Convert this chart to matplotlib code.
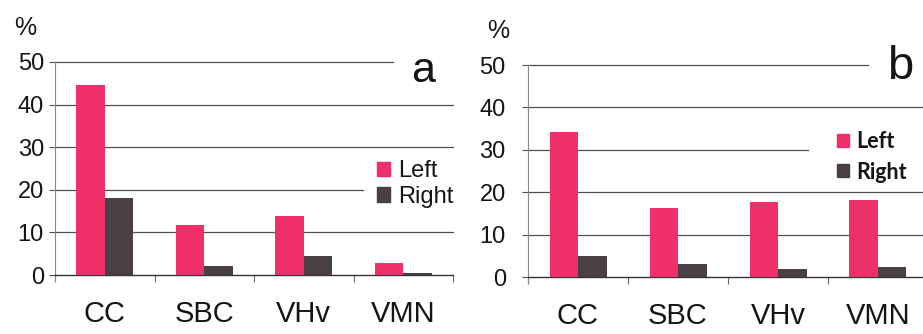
import numpy as np
import matplotlib.pyplot as plt
from matplotlib.patches import Patch

# data
categories = ["CC", "SBC", "VHv", "VMN"]
left_a = [44.6, 11.8, 13.8, 2.8]
right_a = [18.0, 2.1, 4.5, 0.5]
left_b = [34.3, 16.2, 17.6, 18.2]
right_b = [5.0, 3.1, 1.9, 2.3]
yticks = [0, 10, 20, 30, 40, 50]

pink = "#ee2f6a"
dark = "#4a3f44"
grid_c = "#505050"

plt.rcParams['font.family'] = ['Liberation Sans', 'DejaVu Sans']

fig = plt.figure(figsize=(9.23, 3.34), dpi=100)


def panel(rect, left, right, letter, letter_size, legend_font, legend_anchor,
          legend_gap, letter_xy, grid_ends, ypad):
    ax = fig.add_axes(rect)
    x = np.arange(len(categories))
    w = 0.285
    ax.bar(x - w / 2, left, w, color=pink, label="Left", zorder=3)
    ax.bar(x + w / 2, right, w, color=dark, label="Right", zorder=3)
    ax.set_xlim(-0.5, 3.5)
    ax.set_ylim(0, 50)
    # horizontal gridlines, some broken by the legend / panel letter
    for yv, xe in zip(yticks[1:], grid_ends):
        ax.plot([-0.5, xe], [yv, yv], color=grid_c, lw=0.9, zorder=1, clip_on=False)
    for s in ["top", "right"]:
        ax.spines[s].set_visible(False)
    ax.spines["left"].set_color("#888888")
    ax.spines["left"].set_linewidth(0.8)
    ax.spines["left"].set_bounds(-1.5, 50)
    ax.spines["bottom"].set_color("#333333")
    ax.spines["bottom"].set_linewidth(1.0)
    ax.set_yticks(yticks)
    ax.set_yticklabels([str(v) for v in yticks], fontsize=17, color="#151515")
    ax.tick_params(axis="y", length=4, width=0.8, color=grid_c, pad=ypad)
    ax.set_xticks(x)
    ax.set_xticklabels(categories, fontsize=21, color="#151515")
    ax.tick_params(axis="x", which="major", length=0, pad=18)
    ax.set_xticks(np.arange(-0.5, 4.0, 1.0), minor=True)
    ax.tick_params(axis="x", which="minor", length=5, width=0.8, color="#666666", direction="out")
    ax.text(-0.075, 1.16, "%", transform=ax.transAxes, fontsize=18, color="#151515",
            ha="center", va="center")
    ax.text(letter_xy[0], letter_xy[1], letter, transform=ax.transAxes, fontsize=letter_size,
            color="#151515", ha="center", va="center")
    handles = [Patch(color=pink, label="Left"), Patch(color=dark, label="Right")]
    leg = ax.legend(handles=handles, loc="center left", bbox_to_anchor=legend_anchor,
                    frameon=False, handlelength=0.55, handleheight=0.55,
                    handletextpad=0.35, labelspacing=legend_gap, borderaxespad=0,
                    borderpad=0, prop=legend_font)
    for t in leg.get_texts():
        t.set_color("#151515")
    return ax


panel([55 / 923, 59 / 334, 398 / 923, 213 / 334], left_a, right_a, "a", 31,
      {"family": "Liberation Sans", "size": 17},
      (0.809, 0.427), 0.15, (0.925, 0.96), [3.5, 2.6, 3.5, 3.5, 2.9], 4)

panel([528 / 923, 57 / 334, 400 / 923, 212 / 334], left_b, right_b, "b", 34,
      {"family": "Lato", "size": 15.5, "weight": "bold"},
      (0.772, 0.566), 0.42, (0.93, 0.99), [3.5, 3.5, 2.3, 3.5, 2.9], 12)

fig.savefig("out.png", dpi=100)
